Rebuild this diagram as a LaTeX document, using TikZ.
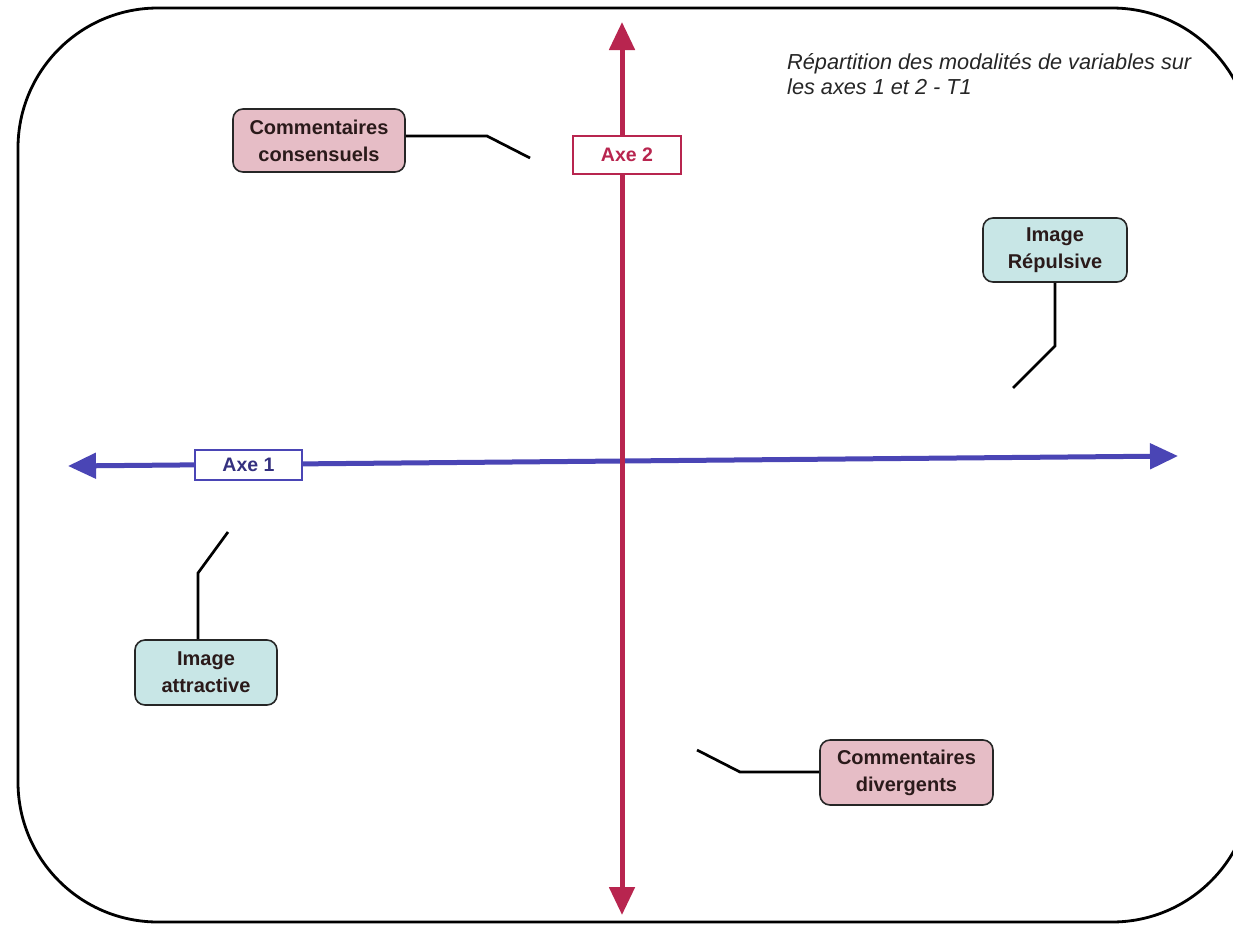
\documentclass[tikz,border=0pt]{standalone}
\usepackage{fontspec}
\setmainfont{Liberation Sans}
\usetikzlibrary{arrows.meta}
\definecolor{axered}{HTML}{B8254F}
\definecolor{axeblue}{HTML}{4A45B5}
\definecolor{pinkfill}{HTML}{E6BDC6}
\definecolor{tealfill}{HTML}{C8E6E6}
\definecolor{boxtext}{HTML}{2A1A1A}
\tikzset{
  modbox/.style={draw=black!85, line width=1.6pt, rounded corners=10pt, align=center,
    font=\fontsize{20}{27}\selectfont\bfseries, text=boxtext, inner sep=0pt},
  pinkbox/.style={modbox, fill=pinkfill},
  tealbox/.style={modbox, fill=tealfill},
  axelabel/.style={fill=white, line width=1.4pt, minimum height=30pt, inner sep=0pt,
    font=\fontsize{19.5}{22}\selectfont\bfseries},
  axisline/.style={line width=5pt, -{Triangle[width=25pt,length=28pt]}},
  leader/.style={line width=2.7pt, black},
}
\begin{document}
\begin{tikzpicture}[x=1pt,y=-1pt]
\useasboundingbox (0,0) rectangle (1233,924);
\fill[white] (0,0) rectangle (1233,924);
% frame
\draw[line width=2.8pt, rounded corners=140pt] (18,8) rectangle (1252,922);
% axes
\coordinate (o) at (622,461);
\coordinate (left) at (68,466);
\coordinate (right) at (1178,456);
\coordinate (top) at (622,22);
\coordinate (bottom) at (622,915);
\draw[axisline, axeblue] (o) -- (left);
\draw[axisline, axeblue] (o) -- (right);
\draw[axisline, axered] (o) -- (top);
\draw[axisline, axered] (o) -- (bottom);
% axis labels
\node[axelabel, draw=axered, text=axered, minimum width=108pt, minimum height=38pt] (axe2) at (627,155) {Axe 2};
\node[axelabel, draw=axeblue, text=axeblue!70!black, minimum width=107pt, minimum height=30pt] (axe1) at (248.5,465) {Axe 1};
% boxes
\node[pinkbox, minimum width=172pt, minimum height=63pt] (cc) at (319,140.5) {Commentaires\\consensuels};
\node[tealbox, minimum width=144pt, minimum height=64pt] (ir) at (1055,250) {Image\\Répulsive};
\node[tealbox, minimum width=142pt, minimum height=65pt] (ia) at (206,672.5) {Image\\attractive};
\node[pinkbox, minimum width=173pt, minimum height=65pt] (cd) at (906.5,772.5) {Commentaires\\divergents};
% leader lines
\coordinate (b1) at (487,136);
\coordinate (e1) at (530,158);
\draw[leader] (cc.east |- b1) -- (b1) -- (e1);
\coordinate (b2) at (1055,346);
\coordinate (e2) at (1013,388);
\draw[leader] (ir.south) -- (b2) -- (e2);
\coordinate (b3) at (198,573);
\coordinate (e3) at (228,532);
\draw[leader] (ia.north -| b3) -- (b3) -- (e3);
\coordinate (b4) at (740,772);
\coordinate (e4) at (697,750);
\draw[leader] (cd.west |- b4) -- (b4) -- (e4);
% title
\node[anchor=north west, align=left, inner sep=0pt, font=\fontsize{21.7}{25.5}\selectfont\itshape, text=black!85] (title) at (787,53) {Répartition des modalités de variables sur\\les axes 1 et 2 - T1};
\end{tikzpicture}
\end{document}
